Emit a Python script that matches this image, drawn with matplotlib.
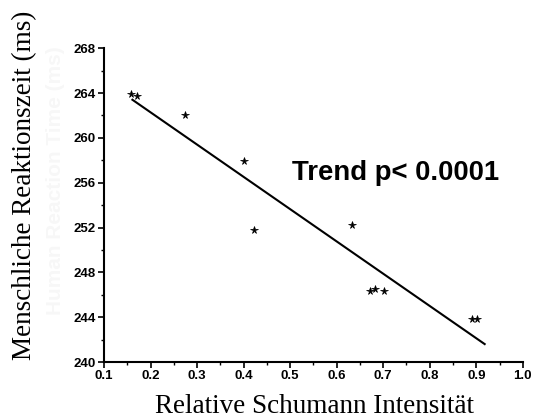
import matplotlib
matplotlib.use("Agg")
import matplotlib.pyplot as plt

# values
intensity = [0.159, 0.171, 0.274, 0.400, 0.422, 0.632, 0.671, 0.682, 0.701, 0.891, 0.901]
reaction_ms = [263.9, 263.7, 262.0, 257.9, 251.8, 252.2, 246.3, 246.5, 246.3, 243.8, 243.8]
trend_x = [0.161, 0.918]
trend_y = [263.4, 241.6]

xticks = [0.1, 0.2, 0.3, 0.4, 0.5, 0.6, 0.7, 0.8, 0.9, 1.0]
yticks = [240, 244, 248, 252, 256, 260, 264, 268]

fig = plt.figure(figsize=(5.39, 4.19), dpi=100)
ax = fig.add_axes([0.193, 0.136, 0.777, 0.749])

ax.plot(intensity, reaction_ms, linestyle='none', marker='*', color='black',
        markersize=5.5, markeredgewidth=0.5)
ax.plot(trend_x, trend_y, color='black', linewidth=1.5)

ax.set_xlim(0.1, 1.0)
ax.set_ylim(240, 268)
ax.set_xticks(xticks)
ax.set_yticks(yticks)
ax.set_xticks([0.15, 0.25, 0.35, 0.45, 0.55, 0.65, 0.75, 0.85, 0.95], minor=True)
ax.set_yticks([242, 246, 250, 254, 258, 262, 266], minor=True)
ax.set_xticklabels(['0.1', '0.2', '0.3', '0.4', '0.5', '0.6', '0.7', '0.8', '0.9', '1.0'])

for s in ['top', 'right']:
    ax.spines[s].set_visible(False)
for s in ['left', 'bottom']:
    ax.spines[s].set_linewidth(1.5)

ax.tick_params(axis='both', which='major', direction='out', length=4, width=1.2,
               labelsize=9.5, pad=2)
ax.tick_params(axis='both', which='minor', direction='out', length=2.5, width=1)
for lab in ax.get_xticklabels() + ax.get_yticklabels():
    lab.set_fontweight('bold')
    lab.set_family('Liberation Sans')

ax.text(0.505, 256.9, 'Trend p< 0.0001', fontsize=19.8, fontweight='bold',
        family='Liberation Sans', ha='left', va='center')

# faint ghost label behind the main one
fig.text(0.103, 0.57, 'Human Reaction Time (ms)', rotation=90, ha='center', va='center',
         fontsize=15, fontweight='bold', family='Liberation Sans', color='#f7f7f7')
fig.text(0.046, 0.558, 'Menschliche Reaktionszeit (ms)', rotation=90, ha='center',
         va='center', fontsize=19.5, family='Liberation Serif')
fig.text(0.584, 0.03, 'Relative Schumann Intensität', ha='center', va='center',
         fontsize=19.5, family='Liberation Serif')

fig.savefig('out.png', dpi=100)
